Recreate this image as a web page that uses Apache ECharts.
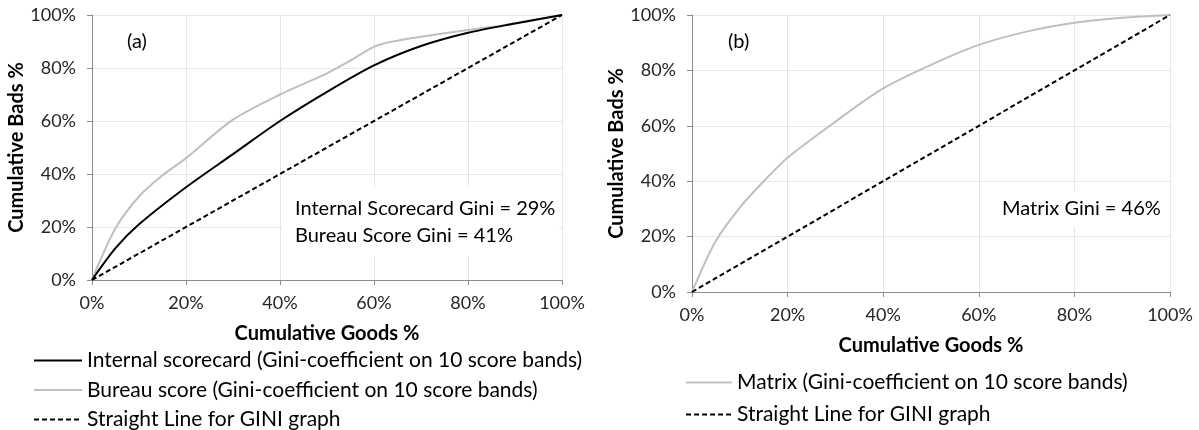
<!DOCTYPE html>
<html>
<head>
<meta charset="utf-8">
<script src="https://cdn.jsdelivr.net/npm/echarts@6/dist/echarts.min.js"></script>
<style>
html,body{margin:0;padding:0;background:#fff;}
#chart{width:1199px;height:430px;}
</style>
</head>
<body>
<div id="chart"></div>
<script>
// Panel (a): cumulative goods % (x) vs cumulative bads % (y)
const internalX = [0, 5, 10, 20, 30, 40, 50, 60, 70, 80, 90, 100];
const internalY = [0, 12, 21, 35, 47.5, 60, 71, 81, 88.3, 93.3, 96.8, 100];
const bureauX = [0, 5, 10, 15, 20, 30, 40, 50, 54, 60, 64, 70, 80, 90, 100];
const bureauY = [0, 19.5, 31.5, 39.5, 46, 60.5, 70, 78, 81.8, 88, 90, 91.8, 94.3, 96.8, 100];
// Panel (b)
const matrixX = [0, 5, 10, 15, 20, 30, 40, 50, 60, 70, 80, 90, 100];
const matrixY = [0, 18.5, 30.5, 40, 48.5, 61.5, 73.5, 82, 89.2, 94, 97.2, 99, 100];
// Diagonal reference line
const diagX = [0, 100];
const diagY = [0, 100];

const nameInternal = 'Internal scorecard (Gini-coefficient on 10 score bands)';
const nameBureau = 'Bureau score (Gini-coefficient on 10 score bands)';
const nameMatrix = 'Matrix (Gini-coefficient on 10 score bands)';
const nameDiag = 'Straight Line for GINI graph';

const annotA = ['(a)', 'Internal Scorecard Gini = 29%', 'Bureau Score Gini = 41%'];
const annotB = ['(b)', 'Matrix Gini = 46%'];

const FONT = 'Lato, Carlito, Calibri, sans-serif';
const zip = (xs, ys) => xs.map((x, i) => [x, ys[i]]);

const chart = echarts.init(document.getElementById('chart'), null, {renderer: 'canvas'});

function xAxisFor(gi) {
  return {
    type: 'value', gridIndex: gi, min: 0, max: 100, interval: 20,
    name: 'Cumulative Goods %', nameLocation: 'middle', nameGap: 44,
    nameTextStyle: {fontFamily: FONT, fontSize: 20, fontWeight: 'bold', color: '#000'},
    axisLine: {show: true, lineStyle: {color: '#8c8c8c', width: 1}},
    axisTick: {show: true, length: 5, lineStyle: {color: '#8c8c8c'}},
    axisLabel: {formatter: '{value}%', fontFamily: FONT, fontSize: 18, color: '#262626', margin: 14},
    splitLine: {show: true, lineStyle: {color: '#e6e6e6', width: 1}}
  };
}
function yAxisFor(gi) {
  return {
    type: 'value', gridIndex: gi, min: 0, max: 100, interval: 20,
    name: 'Cumulative Bads %', nameLocation: 'middle', nameGap: 57,
    nameTextStyle: {fontFamily: FONT, fontSize: 20, fontWeight: 'bold', color: '#000'},
    axisLine: {show: true, lineStyle: {color: '#8c8c8c', width: 1}},
    axisTick: {show: true, length: 5, lineStyle: {color: '#8c8c8c'}},
    axisLabel: {formatter: '{value}%', fontFamily: FONT, fontSize: 18, color: '#262626', margin: 16},
    splitLine: {show: true, lineStyle: {color: '#e6e6e6', width: 1}}
  };
}

const grayStyle = {color: '#bfbfbf', width: 2};
const blackStyle = {color: '#000000', width: 2};
const dashStyle = {color: '#000000', width: 2, type: [5, 3]};

const legendText = {fontFamily: FONT, fontSize: 21, color: '#000', lineHeight: 20};

const option = {
  animation: false,
  backgroundColor: '#ffffff',
  grid: [
    {left: 92, top: 15, width: 470, height: 265},
    {left: 692, top: 15, width: 478, height: 277}
  ],
  xAxis: [xAxisFor(0), xAxisFor(1)],
  yAxis: [yAxisFor(0), yAxisFor(1)],
  legend: [
    {
      orient: 'vertical', left: 33, top: 350, padding: 0,
      itemWidth: 48, itemHeight: 10, itemGap: 8.5,
      itemStyle: {opacity: 0},
      data: [nameInternal, nameBureau, nameDiag],
      textStyle: legendText, selectedMode: false
    },
    {
      orient: 'vertical', left: 685, top: 372, padding: 0,
      itemWidth: 46, itemHeight: 10, itemGap: 11,
      itemStyle: {opacity: 0},
      data: [nameMatrix, nameDiag],
      textStyle: legendText, selectedMode: false
    }
  ],
  series: [
    {name: nameInternal, type: 'line', xAxisIndex: 0, yAxisIndex: 0, data: zip(internalX, internalY),
     smooth: 0.3, showSymbol: false, symbol: 'none', lineStyle: blackStyle, itemStyle: {color: '#000'}, z: 3},
    {name: nameBureau, type: 'line', xAxisIndex: 0, yAxisIndex: 0, data: zip(bureauX, bureauY),
     smooth: 0.3, showSymbol: false, symbol: 'none', lineStyle: grayStyle, itemStyle: {color: '#bfbfbf'}, z: 2},
    {name: nameDiag, type: 'line', xAxisIndex: 0, yAxisIndex: 0, data: zip(diagX, diagY),
     showSymbol: false, symbol: 'none', lineStyle: dashStyle, itemStyle: {color: '#000'}, z: 4},
    {name: nameMatrix, type: 'line', xAxisIndex: 1, yAxisIndex: 1, data: zip(matrixX, matrixY),
     smooth: 0.3, showSymbol: false, symbol: 'none', lineStyle: grayStyle, itemStyle: {color: '#bfbfbf'}, z: 2},
    {name: nameDiag, type: 'line', xAxisIndex: 1, yAxisIndex: 1, data: zip(diagX, diagY),
     showSymbol: false, symbol: 'none', lineStyle: dashStyle, itemStyle: {color: '#000'}, z: 4}
  ],
  graphic: [
    {type: 'text', left: 127, top: 32, z: 10, style: {text: annotA[0], font: '20px ' + FONT, fill: '#000'}},
    {type: 'text', left: 283, top: 187, z: 10, style: {
      text: annotA[1] + '\n' + annotA[2], font: '20px ' + FONT, fill: '#000', lineHeight: 27,
      backgroundColor: '#ffffff', padding: [8, 4, 8, 12]}},
    {type: 'text', left: 728, top: 32, z: 10, style: {text: annotB[0], font: '20px ' + FONT, fill: '#000'}},
    {type: 'text', left: 992, top: 191, z: 10, style: {
      text: annotB[1], font: '20px ' + FONT, fill: '#000', lineHeight: 27,
      backgroundColor: '#ffffff', padding: [4, 6, 4, 10]}}
  ]
};
chart.setOption(option);
</script>
</body>
</html>
